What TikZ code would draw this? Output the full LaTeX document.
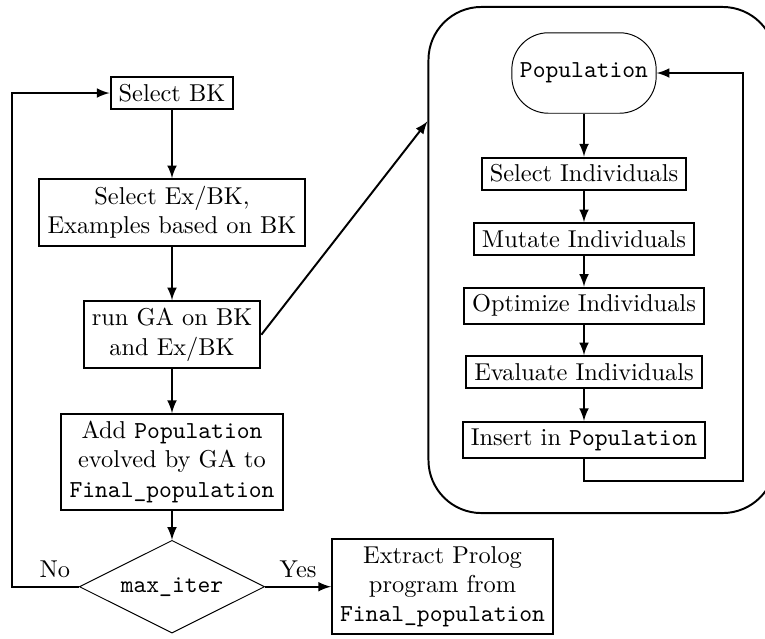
\documentclass[tikz,border=0pt]{standalone}
\usepackage{tikz}
\usetikzlibrary{arrows,positioning,shapes,calc}

\begin{document}
\begin{tikzpicture}[x=0.41pt, y=-0.41pt, >=latex,
	box/.style={draw, thick, align=center, inner ysep=2.9pt},
	decision/.style={draw, diamond, aspect=2, inner sep=0pt, minimum width=76pt, minimum height=38pt},
	popnode/.style={draw, rectangle, rounded corners=15pt, minimum width=55pt, minimum height=33pt},
	gabox/.style={draw, thick, rectangle, rounded corners=21.7pt, minimum width=142.3pt, minimum height=207.5pt},
	flow/.style={->, thick}]
		\useasboundingbox (0,0) rectangle (765,638);
		% main loop
		\node[box] (selbk) at (172,93) {Select BK};
		\node[box] (exbk) [below=28pt of selbk] {Select Ex/BK,\\ Examples based on BK};
		\node[box] (runga) [below=22pt of exbk] {run GA on BK\\ and Ex/BK};
		\node[box] (addpop) [below=18pt of runga] {Add \texttt{Population}\\ evolved by GA to\\ \texttt{Final\_population}};
		\node[decision] (maxit) [below=12pt of addpop] {\texttt{max\_iter}};
		\node[box] (extract) [right=27pt of maxit] {Extract Prolog\\ program from\\ \texttt{Final\_population}};
		\coordinate (lft) at (12,93);
		% GA
		\node[gabox] (ga) at (602,260) {};
		\node[popnode] (pop) at (584,73) {\texttt{Population}};
		\node[box] (selind) [below=17.6pt of pop] {Select Individuals};
		\node[box] (mutind) [below=13pt of selind] {Mutate Individuals};
		\node[box] (optind) [below=12.8pt of mutind] {Optimize Individuals};
		\node[box] (evalind) [below=12.5pt of optind] {Evaluate Individuals};
		\node[box] (insind) [below=13.3pt of evalind] {Insert in \texttt{Population}};
		\coordinate (back) at (743,481);
		% arrows
		\draw[flow] (selbk) -- (exbk);
		\draw[flow] (exbk) -- (runga);
		\draw[flow] (runga) -- (addpop);
		\draw[flow] (addpop) -- (maxit);
		\draw[flow] (maxit.east) -- (extract.west) node[midway, above] {Yes};
		\draw[flow] (maxit.west) -| node[above, pos=0.18] {No} (lft) -- (selbk.west);
		\draw[flow] (runga.east) -- ($(ga.north west)!0.227!(ga.south west)$);
		\draw[flow] (pop) -- (selind);
		\draw[flow] (selind) -- (mutind);
		\draw[flow] (mutind) -- (optind);
		\draw[flow] (optind) -- (evalind);
		\draw[flow] (evalind) -- (insind);
		\draw[flow] (insind.south) |- (back) |- (pop.east);
	\end{tikzpicture}
\end{document}
